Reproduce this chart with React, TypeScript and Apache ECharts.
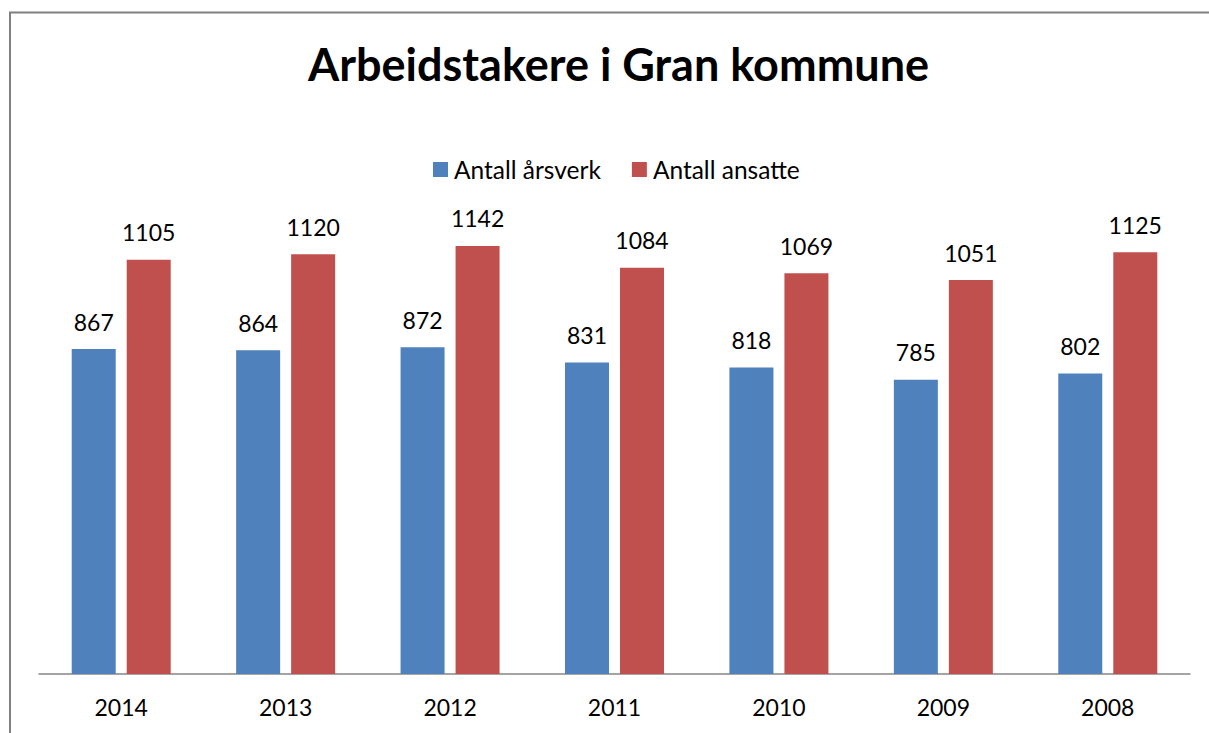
import React, { useEffect, useRef } from "react";
import * as echarts from "echarts";

const categories = ["2014", "2013", "2012", "2011", "2010", "2009", "2008"];
const arsverk = [867, 864, 872, 831, 818, 785, 802];
const ansatte = [1105, 1120, 1142, 1084, 1069, 1051, 1125];
const seriesNames = ["Antall årsverk", "Antall ansatte"];
const titleText = "Arbeidstakere i Gran kommune";

const FONT = "Lato, 'Noto Sans', sans-serif";

export default function App() {
  const ref = useRef<HTMLDivElement>(null);
  useEffect(() => {
    if (!ref.current) return;
    const chart = echarts.init(ref.current, undefined, { renderer: "svg" });
    const yMax = 1400;
    const axisY = 674;
    const pxPerUnit = 0.3748;
    const top = axisY - yMax * pxPerUnit;
    chart.setOption({
      animation: false,
      backgroundColor: "#ffffff",
      textStyle: { fontFamily: FONT },
      title: {
        text: titleText,
        left: 303,
        top: 36,
        textStyle: { fontFamily: FONT, fontSize: 45, fontWeight: "bold", color: "#000" },
      },
      legend: {
        data: seriesNames,
        top: 152,
        left: 428,
        itemWidth: 15,
        itemHeight: 15,
        itemGap: 31,
        icon: "rect",
        textStyle: { fontFamily: FONT, fontSize: 24.5, color: "#000", padding: [0, 0, 0, 1] },
      },
      graphic: [
        {
          type: "rect",
          shape: { x: 10, y: 12.5, width: 1400, height: 900 },
          style: { fill: "none", stroke: "#808080", lineWidth: 2 },
          silent: true,
        },
      ],
      grid: { left: 39, right: 1209 - 1190, top: top, bottom: 733 - axisY, containLabel: false },
      xAxis: {
        type: "category",
        data: categories,
        axisLine: { lineStyle: { color: "#868686", width: 1.5 } },
        axisTick: { show: false },
        axisLabel: { fontFamily: FONT, fontSize: 23, color: "#000", margin: 21 },
      },
      yAxis: {
        type: "value",
        min: 0,
        max: yMax,
        show: false,
        splitLine: { show: false },
      },
      series: [
        {
          name: seriesNames[0],
          type: "bar",
          data: arsverk,
          barWidth: 44,
          barGap: "25%",
          itemStyle: { color: "#4F81BD" },
          label: { show: true, position: "top", distance: 16, fontFamily: FONT, fontSize: 23, color: "#000" },
        },
        {
          name: seriesNames[1],
          type: "bar",
          data: ansatte,
          barWidth: 44,
          itemStyle: { color: "#C0504D" },
          label: { show: true, position: "top", distance: 16, fontFamily: FONT, fontSize: 23, color: "#000" },
        },
      ],
    });
    return () => chart.dispose();
  }, []);
  return (
    <div
      ref={ref}
      style={{ position: "absolute", left: 0, top: 0, width: 1209, height: 733 }}
    />
  );
}
